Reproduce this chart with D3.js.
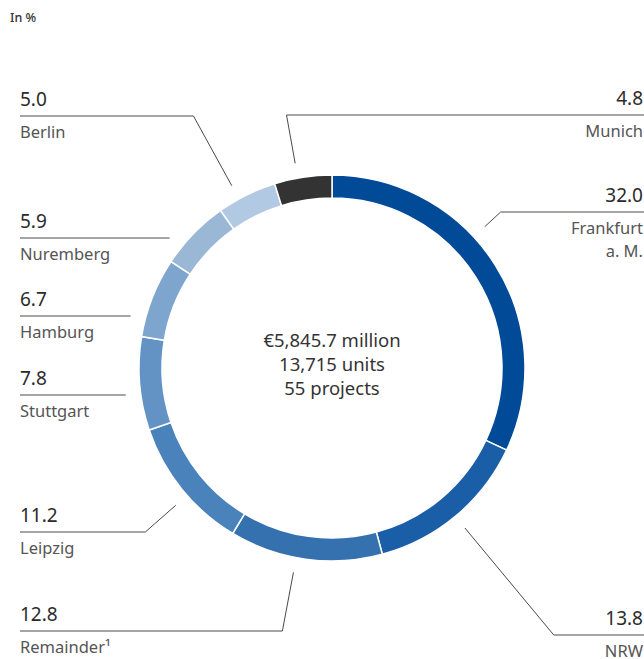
<!DOCTYPE html>
<html>
<head>
<meta charset="utf-8">
<script src="https://cdn.jsdelivr.net/npm/d3@7"></script>
<style>
  body { margin: 0; background: #fff; }
  svg { display: block; font-family: "Noto Sans", sans-serif; }
  .value { font-size: 19px; fill: #2b2b2b; }
  .name { font-size: 16.5px; fill: #555; }
  .center { font-size: 18.5px; fill: #333; }
  .leader { stroke: #4a4a4a; stroke-width: 1; fill: none; }
</style>
</head>
<body>
<svg width="644" height="659"></svg>
<script>
// Data (share in %), clockwise from 12 o'clock
const regions = ["Frankfurt a. M.", "NRW", "Remainder", "Leipzig", "Stuttgart", "Hamburg", "Nuremberg", "Berlin", "Munich"];
const shares = [32.0, 13.8, 12.8, 11.2, 7.8, 6.7, 5.9, 5.0, 4.8];
const colors = ["#004a98", "#1b5ea8", "#3471ae", "#4a82bb", "#6393c5", "#7ea5cd", "#9ab7d6", "#b1c9e2", "#333333"];
const centerLines = ["€5,845.7 million", "13,715 units", "55 projects"];

// label layout: which side, label-line y, name lines, where on the slice the leader starts
const labelSide = ["right", "right", "left", "left", "left", "left", "left", "left", "right"];
const labelLineY = [212, 635, 631, 532, 395, 316, 238, 116, 115];
const labelNames = [["Frankfurt", "a. M."], ["NRW"], ["Remainder¹"], ["Leipzig"], ["Stuttgart"], ["Hamburg"], ["Nuremberg"], ["Berlin"], ["Munich"]];
const leaderFlat = [false, false, false, false, true, true, true, false, false];
const leaderAnchor = [0.41, 0.505, 0.56, 0.44, 0.5, 0.5, 0.5, 0.36, 0.41];

const width = 644;
const height = 659;
const cx = 332;
const cy = 368;
const outerR = 193;
const innerR = 170;
const leaderR = 208;

const svg = d3.select("svg");

svg.append("text")
  .attr("x", 10)
  .attr("y", 22)
  .attr("font-size", 12.5)
  .attr("font-weight", 500)
  .attr("fill", "#333")
  .text("In %");

const data = regions.map((r, i) => ({ region: r, share: shares[i], i: i }));

const pie = d3.pie()
  .sort(null)
  .value((d) => d.share);

const arcs = pie(data);

const arc = d3.arc()
  .innerRadius(innerR)
  .outerRadius(outerR);

const color = d3.scaleOrdinal()
  .domain(regions)
  .range(colors);

const g = svg.append("g").attr("transform", `translate(${cx},${cy})`);

g.selectAll("path.slice")
  .data(arcs)
  .enter()
  .append("path")
  .attr("class", "slice")
  .attr("d", arc)
  .attr("fill", (d) => color(d.data.region))
  .attr("stroke", "#fff")
  .attr("stroke-width", 1.5);

// centre text
g.selectAll("text.center")
  .data(centerLines)
  .enter()
  .append("text")
  .attr("class", "center")
  .attr("text-anchor", "middle")
  .attr("x", 0)
  .attr("y", (d, i) => -21 + i * 24)
  .text((d) => d);

// leaders + labels
arcs.forEach((a, i) => {
  const side = labelSide[i];
  const ly = labelLineY[i] - cy; // relative to centre
  let pts;
  if (leaderFlat[i]) {
    // horizontal line ending on the leader circle
    const x0 = -Math.sqrt(leaderR * leaderR - ly * ly);
    pts = [[side === "left" ? 20 - cx : width - cx, ly], [side === "left" ? x0 : -x0, ly]];
  } else {
    const ang = a.startAngle + (a.endAngle - a.startAngle) * leaderAnchor[i];
    const sx = Math.sin(ang), sy = -Math.cos(ang);
    const px = leaderR * sx, py = leaderR * sy;
    // extend radially until the label line
    const t = (ly - py) / sy;
    const ex = px + sx * t;
    pts = [[side === "left" ? 20 - cx : width - cx, ly], [ex, ly], [px, py]];
  }
  g.append("path")
    .attr("class", "leader")
    .attr("d", d3.line()(pts));

  const tx = side === "left" ? 20 - cx : width - 1 - cx;
  const anchor = side === "left" ? "start" : "end";
  g.append("text")
    .attr("class", "value")
    .attr("x", tx)
    .attr("y", ly - 10)
    .attr("text-anchor", anchor)
    .text(d3.format(".1f")(a.data.share));
  labelNames[i].forEach((n, k) => {
    g.append("text")
      .attr("class", "name")
      .attr("x", tx)
      .attr("y", ly + 22 + k * 23)
      .attr("text-anchor", anchor)
      .text(n);
  });
});
</script>
</body>
</html>
